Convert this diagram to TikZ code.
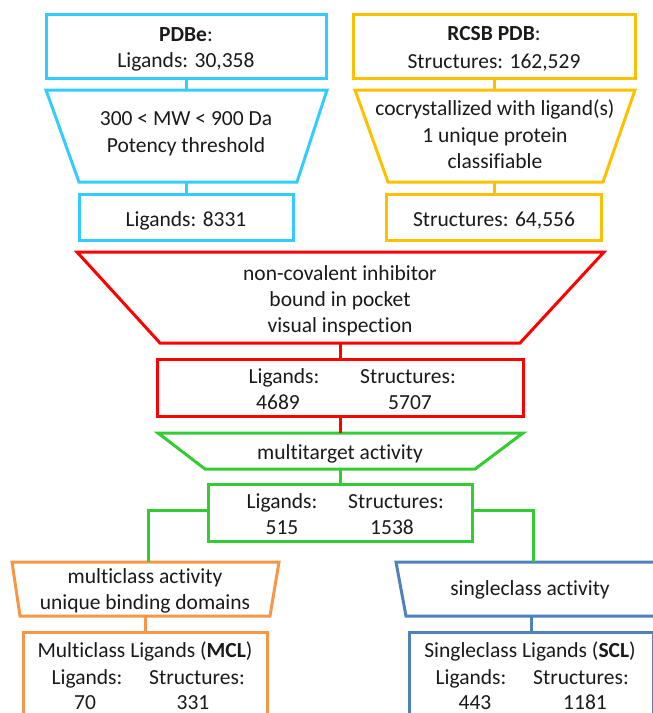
\documentclass[tikz,border=0pt]{standalone}
\usepackage{fontspec}
\setmainfont[Ligatures=NoCommon]{Carlito}
\definecolor{cyanc}{HTML}{33CCFF}
\definecolor{goldc}{HTML}{FFC000}
\definecolor{redc}{HTML}{FF0000}
\definecolor{greenc}{HTML}{33CC33}
\definecolor{orangec}{HTML}{F79646}
\definecolor{bluec}{HTML}{4F81BD}
\definecolor{txtc}{HTML}{1A1A1A}
\begin{document}
\begin{tikzpicture}[x=1pt,y=-1pt,
  lw/.style={line width=3pt},
  box/.style={lw,draw,rectangle,inner sep=0pt},
  txt/.style={anchor=base,inner sep=0pt,text=txtc,font=\fontsize{21.5}{26}\selectfont},
  ]
\useasboundingbox (0,0) rectangle (653,713);
\clip (0,0) rectangle (653,713);
% ---------- left column (PDBe) ----------
\node[box,draw=cyanc,minimum width=280pt,minimum height=64pt] (pdbe) at (186,46) {};
\node[txt] (pdbea) at (186,41) {\textbf{PDBe}:};
\node[txt] (pdbeb) at (186,67) {Ligands: 30,358};
\draw[lw,draw=cyanc] (46,90) -- (327,90) -- (297,182) -- (79,182) -- cycle;
\coordinate (f1top) at (186,90);
\coordinate (f1bot) at (186,182);
\node[txt] (f1a) at (186,125) {300 < MW < 900 Da};
\node[txt] (f1b) at (186,152) {Potency threshold};
\node[box,draw=cyanc,minimum width=214pt,minimum height=46pt] (lig1) at (186,217) {};
\node[txt] (lig1t) at (186,226) {Ligands: 8331};
\draw[lw,draw=cyanc] (pdbe.south) -- (f1top);
\draw[lw,draw=cyanc] (f1bot) -- (lig1.north);
% ---------- right column (RCSB) ----------
\node[box,draw=goldc,minimum width=282pt,minimum height=64pt] (rcsb) at (494,46) {};
\node[txt] (rcsba) at (494,40) {\textbf{RCSB PDB}:};
\node[txt] (rcsbb) at (494,68) {Structures: 162,529};
\draw[lw,draw=goldc] (355,90) -- (635,90) -- (603,182) -- (388,182) -- cycle;
\coordinate (f2top) at (494,90);
\coordinate (f2bot) at (494,182);
\node[txt] (f2a) at (495,115) {cocrystallized with ligand(s)};
\node[txt] (f2b) at (495,142) {1 unique protein};
\node[txt] (f2c) at (495,168) {classifiable};
\node[box,draw=goldc,minimum width=215pt,minimum height=46pt] (str1) at (494,217) {};
\node[txt] (str1t) at (494,226) {Structures: 64,556};
\draw[lw,draw=goldc] (rcsb.south) -- (f2top);
\draw[lw,draw=goldc] (f2bot) -- (str1.north);
% ---------- red stage ----------
\draw[lw,draw=redc] (77,252) -- (604,252) -- (520,343) -- (160,343) -- cycle;
\coordinate (f3bot) at (340,343);
\node[txt] (f3a) at (340,280) {non-covalent inhibitor};
\node[txt] (f3b) at (340,306) {bound in pocket};
\node[txt] (f3c) at (340,332) {visual inspection};
\node[box,draw=redc,minimum width=366pt,minimum height=57pt] (red) at (340,387.5) {};
\node[txt] (redl) at (284,383) {Ligands:};
\node[txt] (redln) at (278,409) {4689};
\node[txt] (reds) at (408,383) {Structures:};
\node[txt] (redsn) at (410,409) {5707};
\draw[lw,draw=redc] (f3bot) -- (red.north);
% ---------- green stage ----------
\draw[lw,draw=greenc] (158,433) -- (523,433) -- (475,469) -- (205,469) -- cycle;
\coordinate (f4top) at (340,433);
\coordinate (f4bot) at (340,469);
\node[txt] (f4a) at (340,459) {multitarget activity};
\draw[lw,draw=redc] (red.south) -- (f4top);
\node[box,draw=greenc,minimum width=264pt,minimum height=57pt] (green) at (340,512.5) {};
\node[txt] (greenl) at (282,508) {Ligands:};
\node[txt] (greenln) at (282,534) {515};
\node[txt] (greens) at (396,508) {Structures:};
\node[txt] (greensn) at (392,534) {1538};
\draw[lw,draw=greenc] (f4bot) -- (green.north);
% ---------- orange branch ----------
\draw[lw,draw=orangec] (12,562) -- (279,562) -- (270,616) -- (20,616) -- cycle;
\coordinate (f5top) at (148,562);
\coordinate (f5bot) at (145,616);
\node[txt] (f5a) at (145,583) {multiclass activity};
\node[txt] (f5b) at (145,609) {unique binding domains};
\node[box,draw=orangec,minimum width=244pt,minimum height=100pt] (mcl) at (145,682) {};
\node[txt] (mcla) at (145,657) {Multiclass Ligands (\textbf{MCL})};
\node[txt] (mclb) at (87,684) {Ligands:};
\node[txt] (mclc) at (85,709) {70};
\node[txt] (mcld) at (197,684) {Structures:};
\node[txt] (mcle) at (193,709) {331};
\draw[lw,draw=orangec] (f5bot) -- (mcl.north -| f5bot);
\draw[lw,draw=greenc] (green.west |- 0,510) -- (148,510) -- (f5top);
% ---------- blue branch ----------
\draw[lw,draw=bluec] (396,562) -- (666,562) -- (656,616) -- (406,616) -- cycle;
\coordinate (f6top) at (533,562);
\coordinate (f6bot) at (531,616);
\node[txt] (f6a) at (530,595) {singleclass activity};
\node[box,draw=bluec,minimum width=244pt,minimum height=100pt] (scl) at (531,682) {};
\node[txt] (scla) at (530,657) {Singleclass Ligands (\textbf{SCL})};
\node[txt] (sclb) at (471,684) {Ligands:};
\node[txt] (sclc) at (475,709) {443};
\node[txt] (scld) at (581,684) {Structures:};
\node[txt] (scle) at (585,709) {1181};
\draw[lw,draw=bluec] (f6bot) -- (scl.north -| f6bot);
\draw[lw,draw=greenc] (green.east |- 0,510) -- (533,510) -- (f6top);
\end{tikzpicture}
\end{document}
